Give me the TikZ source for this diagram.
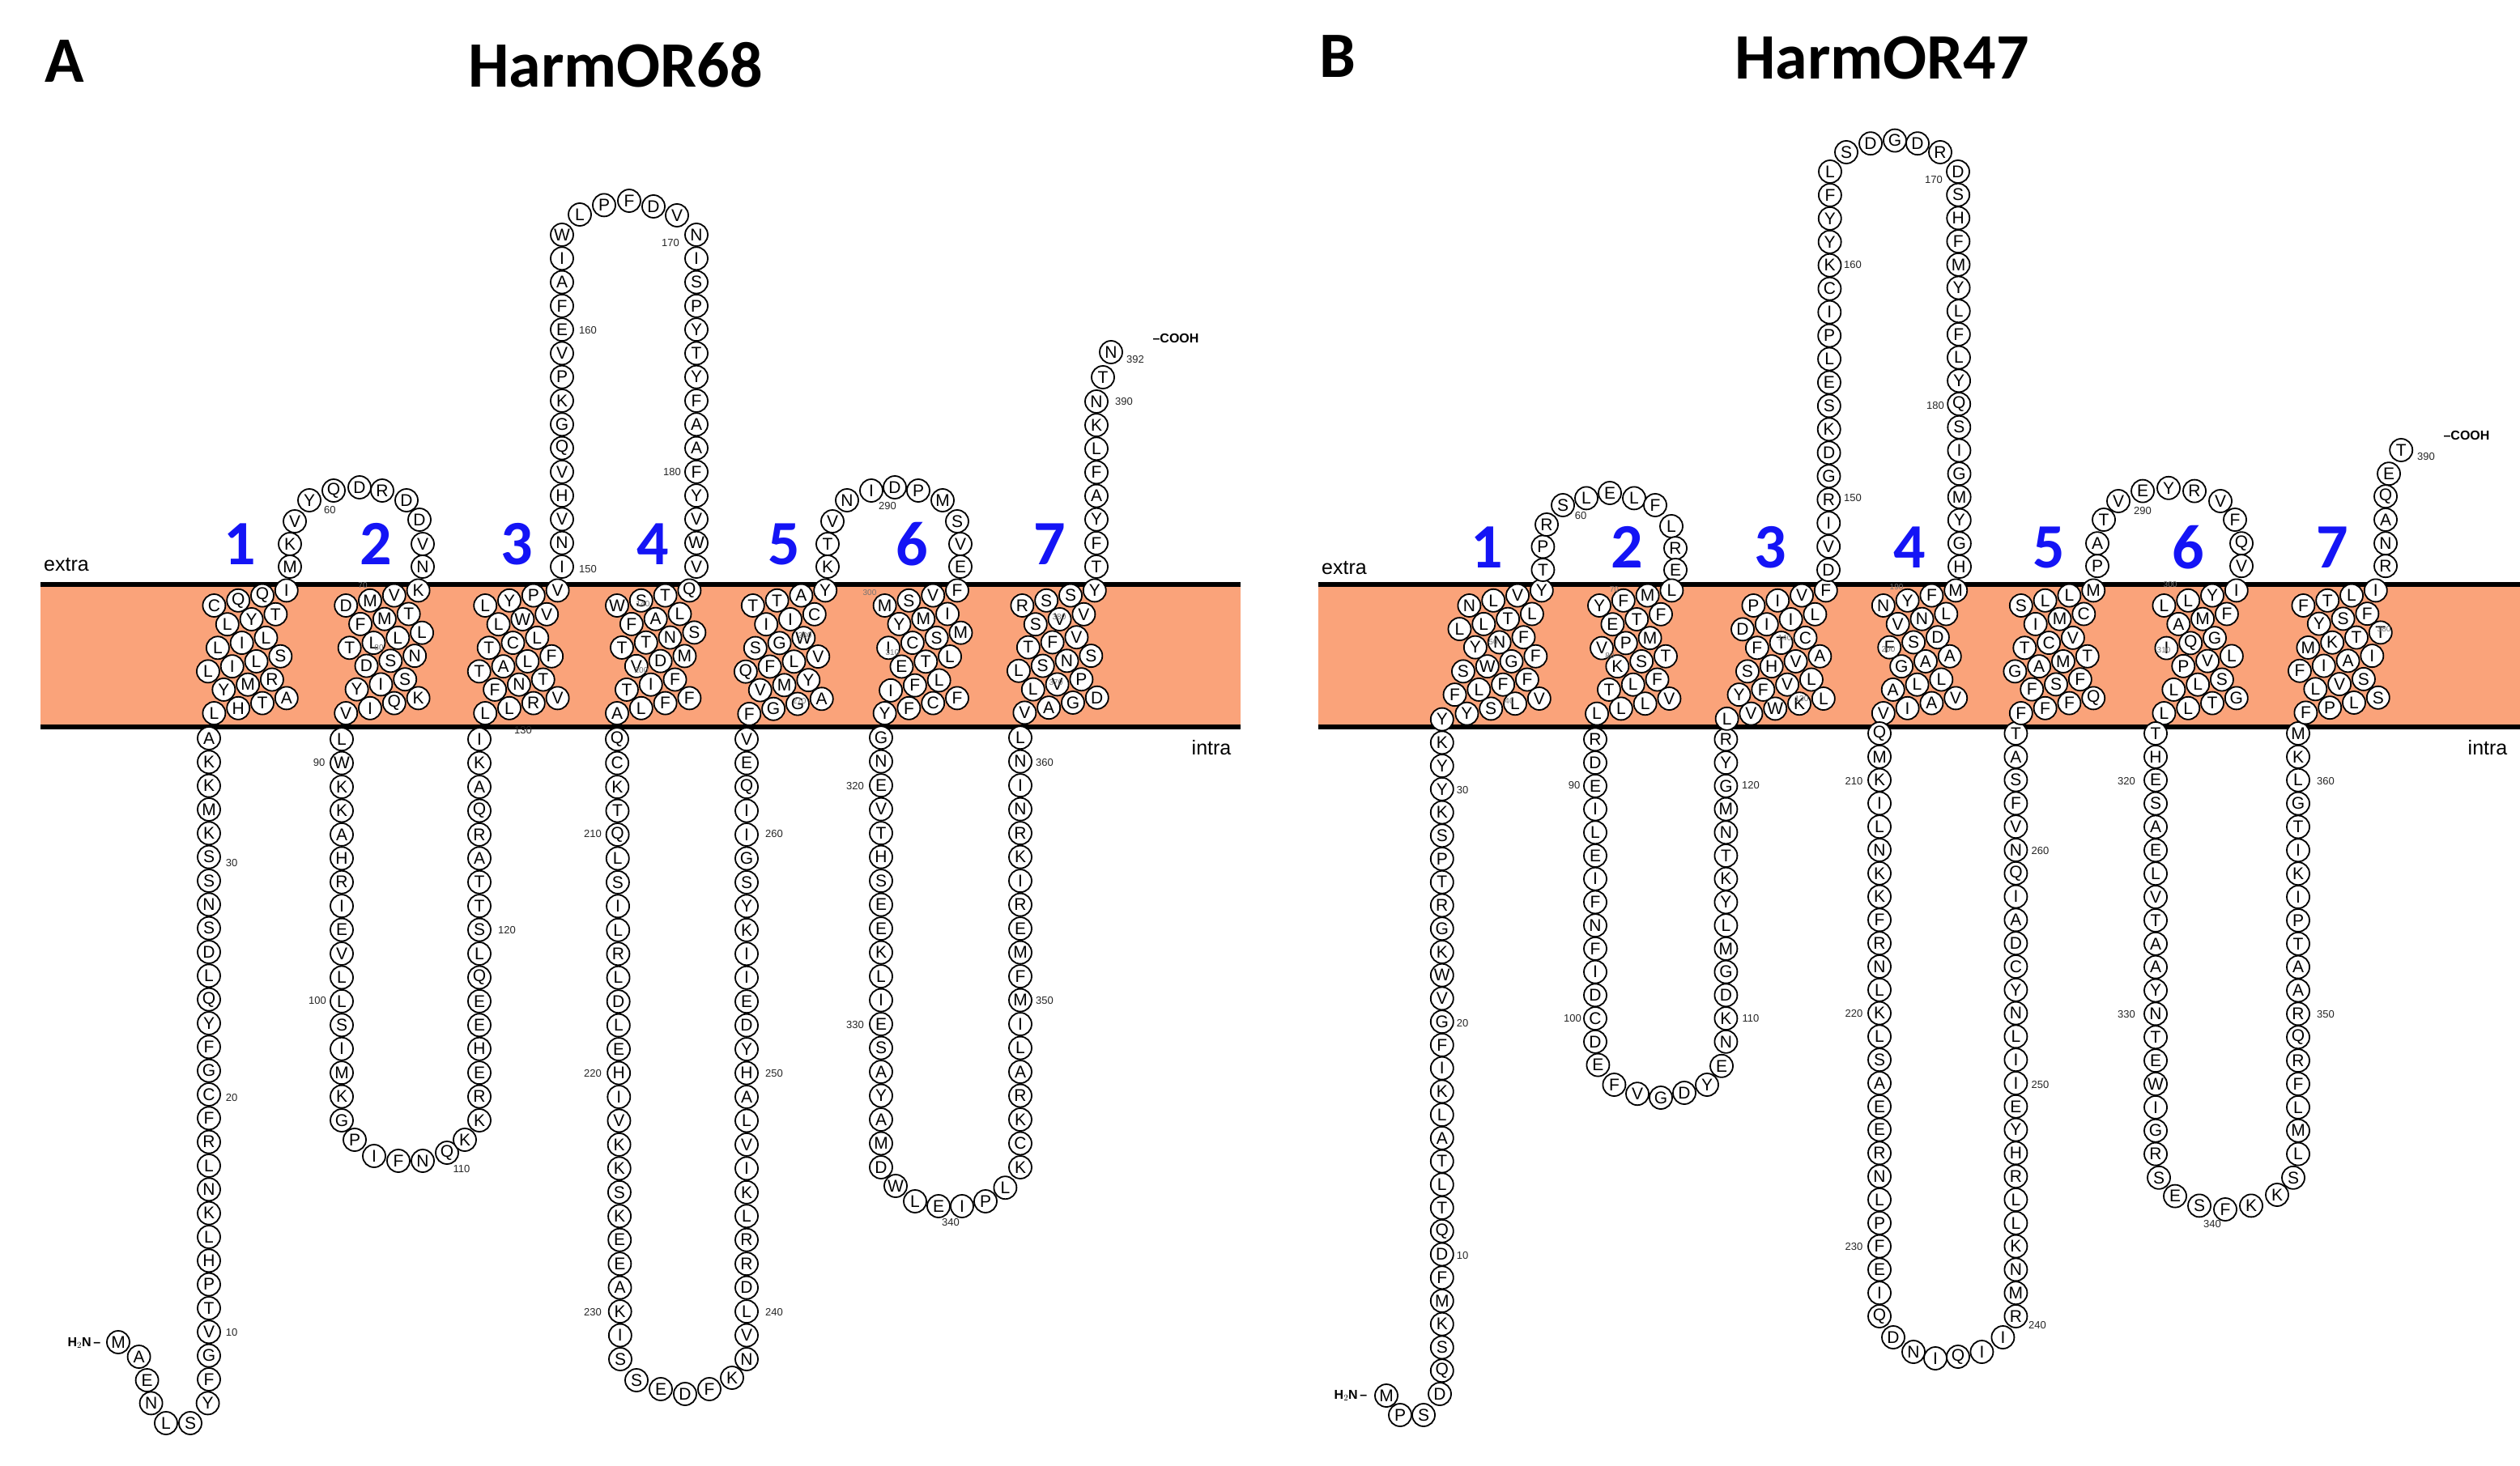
\documentclass[tikz,border=0pt]{standalone}
\usepackage{fontspec}
\setmainfont{Liberation Sans}
\newfontfamily\carlitofont{Carlito}
\begin{document}
\definecolor{memb}{RGB}{250,163,122}
\definecolor{tmblue}{RGB}{20,20,245}
\newcommand\pts[2]{\foreach \x/\y/\l [count=\i] in {#2}{\node[res] (#1\i) at (\x,\y) {\l};}}
\newcommand\col[7]{\foreach \l [count=\i] in {#7}{\node[res] (#1\i) at ({#2+(#4-(#2))*(\i-1)/(#6-1)},{#3+(#5-(#3))*(\i-1)/(#6-1)}) {\l};}}
\newcommand\helix[4]{\foreach \off/\lst [count=\r] in {#4}{\foreach \l [count=\c] in \lst {\node[res] (#1r\r c\c) at ({#2+(\off+\c-1)*14.9},{#3+(\r-1)*13.3-(\off+\c-1)*3.1}) {\l};}}}
\newcommand\labs[2]{\foreach \x/\y/\t [count=\i] in {#2}{\node[lab] (#1\i) at (\x,\y) {\t};}}
\begin{tikzpicture}[x=2pt,y=-2pt,
 res/.style={circle,draw,line width=1.8pt,fill=white,minimum size=28pt,inner sep=0pt,font=\fontsize{21}{21}\selectfont},
 lab/.style={font=\fontsize{13}{13}\selectfont,text=black!85},
 tml/.style={font=\fontsize{10}{10}\selectfont,text=black!55,inner sep=0pt},
 tmnum/.style={font=\carlitofont\bfseries\fontsize{78}{78}\selectfont,text=tmblue},
 title/.style={font=\carlitofont\bfseries\fontsize{80}{80}\selectfont},
 side/.style={font=\fontsize{25}{25}\selectfont},
 band/.style={fill=memb,draw=none}]
\useasboundingbox (0,0) rectangle (1556,905.5);
% membranes
\fill[band] (25,361) rectangle (766,449);
\draw[line width=6pt] (25,361) -- (766,361) (25,449) -- (766,449);
\fill[band] (814,361) rectangle (1556,449);
\draw[line width=6pt] (814,361) -- (1556,361) (814,449) -- (1556,449);
% headings
\node[title] (tA) at (40,38) {A};
\node[title] (hA) at (380,40) {HarmOR68};
\node[title] (tB) at (826,35) {B};
\node[title] (hB) at (1162,36) {HarmOR47};
\node[side] (exA) at (41,349) {extra};
\node[side] (inA) at (748,462) {intra};
\node[side] (exB) at (830,351) {extra};
\node[side] (inB) at (1536,462) {intra};
\foreach \x/\t [count=\i] in {148/1,232/2,319/3,403/4,484/5,563/6,648/7}{\node[tmnum] (nA\i) at (\x,336) {\t};}
\foreach \x/\t [count=\i] in {918/1,1004.5/2,1093/3,1179/4,1265/5,1351/6,1440/7}{\node[tmnum] (nB\i) at (\x,338) {\t};}
% ================= Panel A =================
\node[font=\bfseries\fontsize{16}{16}\selectfont] (aH2N) at (52,829.5) {H$_2$N\,--};
\pts{aN}{73/829/M,85.8/838/A,90.8/852.5/E,93.3/866.7/N,102.5/879/L,117.5/879/S,128.3/866.7/Y}
\col{aC}{129}{852}{129}{456}{28}{F,G,V,T,P,H,L,K,N,L,R,F,C,G,F,Y,Q,L,D,S,N,S,S,K,M,K,K,A}
\helix{aT1}{132.2}{374}{0/{C,Q,Q,I},.55/{L,Y,T},.15/{L,I,L},-.25/{L,I,L,S},.4/{Y,M,R},0/{L,H,T,A}}
\pts{aL1}{179/350/M,179/336/K,182/322/V,191/309/Y,206/303/Q,222/301/D,236/303/R,251/309/D,259/321/D,261/336/V,261/350/N}
\helix{aT2}{213.6}{374}{0/{D,M,V,K},.6/{F,M,T},.15/{T,L,L,L},.85/{D,S,N},.45/{Y,I,S},0/{V,I,Q,K}}
\col{aL2a}{211}{456.6}{211}{692}{17}{L,W,K,K,A,H,R,I,E,V,L,L,S,I,M,K,G}
\pts{aL2b}{219/704/P,231/714/I,246/717/F,261/717/N,276/712/Q,287/704/K}
\col{aL2c}{296}{692}{296}{456.6}{17}{K,R,E,H,E,E,Q,L,S,T,T,A,R,Q,A,K,I}
\helix{aT3}{299.6}{374}{0/{L,Y,P,V},.55/{L,W,V},.15/{T,C,L},-.25/{T,A,L,F},.4/{F,N,T},0/{L,L,R,V}}
\col{aL3a}{347}{350}{347}{145}{15}{I,N,V,H,V,Q,G,K,P,V,E,F,A,I,W}
\pts{aL3b}{358/132.5/L,373/126.7/P,388.5/124/F,403.5/127.5/D,418/133/V}
\col{aL3c}{430}{145}{430}{350}{15}{N,I,S,P,Y,T,Y,F,A,A,F,Y,V,W,V}
\helix{aT4}{381}{374}{0/{W,S,T,Q},.6/{F,A,L},.2/{T,T,N,S},.8/{V,D,M},.4/{T,I,F},0/{A,L,F,F}}
\col{aL4a}{381}{456.6}{383}{839.5}{27}{Q,C,K,T,Q,L,S,I,L,R,L,D,L,E,H,I,V,K,K,S,K,E,E,A,K,I,S}
\pts{aL4b}{393/852.5/S,408/858/E,423/861/D,438/858/F,452/851/K}
\col{aL4c}{461}{839.5}{461}{456.6}{27}{N,V,L,D,R,R,L,K,I,V,L,A,H,Y,D,E,I,I,K,Y,S,G,I,I,Q,E,V}
\helix{aT5}{464.9}{374}{0/{T,T,A,Y},.55/{I,I,C},.1/{S,G,W},-.3/{Q,F,L,V},.3/{V,M,Y},-.15/{F,G,G,A}}
\pts{aL5}{511/350/K,511/336/T,514/322/V,523/309/N,538/303/I,552.5/301/D,567/303/P,582/309/M,591/322/S,593/336/V,593/350/E}
\helix{aT6}{546.3}{374}{0/{M,S,V,F},.6/{Y,M,I},.15/{I,C,S,M},.7/{E,T,L},.25/{I,F,L},0/{Y,F,C,F}}
\col{aL6a}{544}{455.6}{544}{721}{19}{G,N,E,V,T,H,S,E,E,K,L,I,E,S,A,Y,A,M,D}
\pts{aL6b}{553/732.5/W,565/742/L,579.5/745/E,594/745/I,608.5/742/P,620.7/733.6/L}
\col{aL6c}{630}{721}{630}{455.6}{19}{K,C,K,R,A,L,I,M,F,M,E,R,I,K,R,N,I,N,L}
\helix{aT7}{631.2}{374}{0/{R,S,S,Y},.55/{S,V,V},.25/{T,F,V},-.15/{L,S,N,S},.45/{L,V,P},.1/{V,A,G,D}}
\col{aCt}{677}{350}{677}{248}{8}{T,F,Y,A,F,L,K,N}
\pts{aCe}{681/233/T,686/217.5/N}
\node[font=\bfseries\fontsize{16}{16}\selectfont] (aCOOH) at (726,209) {--COOH};
\labs{aLab}{143/823/10,143/678/20,143/533/30,203.7/315/60,197/471/90,196/618/100,285/722/110,313/574.5/120,323/451/130,363/351.7/150,363/204/160,414/150/170,415/291.7/180,366/515/210,366/663/220,366/810.6/230,478/810.6/240,478/663/250,478/515/260,548/312.5/290,528/485.6/320,528/633/330,587/755/340,645/618/350,645/471/360,694/248/390,701/222/392}
\foreach \x/\y/\t [count=\i] in {224/361.7/70,234/400/80,397/373/140,396/414/200,493.6/433/270,497/392.5/280,537/366/300,551/403/310,652/421.7/370,654/381/380}{\node[tml] (aTl\i) at (\x,\y) {\t};}
% ================= Panel B =================
\node[font=\bfseries\fontsize{16}{16}\selectfont] (bH2N) at (834,862) {H$_2$N\,--};
\pts{bN}{856/862/M,864.5/874/P,879/874/S,889/861/D}
\col{bC}{890.4}{846.6}{890.4}{444.3}{29}{Q,S,K,M,F,D,Q,T,L,T,A,L,K,I,F,G,V,W,K,G,R,T,P,S,K,Y,Y,K,Y}
\helix{bT1}{907.2}{374}{0/{N,L,V,Y},-.4/{L,L,T,L},.25/{Y,N,F},-.25/{S,W,G,F},-.6/{F,L,F,F},-.1/{Y,S,L,V}}
\pts{bL1}{952.7/352/T,952.7/337.7/P,955/324/R,965/312/S,979.5/307.7/L,994/304.5/E,1009/307.7/L,1022/312/F,1032/325/L,1034.5/338.6/R,1034.5/352/E}
\helix{bT2}{987.5}{374}{0/{Y,F,M,L},.55/{E,T,F},.1/{V,P,M},.75/{K,S,T},.4/{T,L,F},-.1/{L,L,L,V}}
\col{bL2a}{985}{456.7}{985}{643.4}{14}{R,D,E,I,L,E,I,F,N,F,I,D,C,D}
\pts{bL2b}{986.7/657.8/E,996.7/670/F,1011/675.6/V,1025.5/678/G,1040/675/D,1054/670/Y,1063/658.4/E}
\col{bL2c}{1065.7}{643.4}{1065.7}{456.7}{14}{N,K,D,G,M,L,Y,K,T,N,M,G,Y,R}
\helix{bT3}{1082.7}{374}{0/{P,I,V,F},-.45/{D,I,I,L},.15/{F,T,C},-.25/{S,H,V,A},-.6/{Y,F,V,L},-1.1/{L,V,W,K,L}}
\col{bL3a}{1129}{352}{1130}{106}{18}{D,V,I,R,G,D,K,S,E,L,P,I,C,K,Y,Y,F,L}
\pts{bL3b}{1140/94/S,1155/88.6/D,1170/86.8/G,1184/88.6/D,1198/94/R}
\col{bL3c}{1209}{106}{1210}{350}{18}{D,S,H,F,M,Y,L,F,L,Y,Q,S,I,G,M,Y,G,H}
\helix{bT4}{1162.9}{374}{0/{N,Y,F,M},.6/{V,N,L},.25/{F,S,D},.75/{G,A,A},.4/{A,L,L},0/{V,I,A,V}}
\col{bL4a}{1160.5}{453}{1160.5}{813}{26}{Q,M,K,I,L,N,K,K,F,R,N,L,K,L,S,A,E,E,R,N,L,P,F,E,I,Q}
\pts{bL4b}{1169/826/D,1181.5/835/N,1195/839/I,1209/838/Q,1223.7/835/I,1236.7/826/I}
\col{bL4c}{1244.7}{813}{1244.7}{453}{26}{R,M,N,K,L,L,R,H,Y,E,I,I,L,N,Y,C,D,A,I,Q,N,V,F,S,A,T}
\helix{bT5}{1247.9}{374}{0/{S,L,L,M},.6/{I,M,C},.15/{T,C,V},-.25/{G,A,M,T},.45/{F,S,F},0/{F,F,F,Q}}
\pts{bL5}{1295/349.6/P,1295/335.6/A,1299/321/T,1308/309.5/V,1323/303.3/E,1339/301.4/Y,1355/303.3/R,1371/309.5/V,1380/321/F,1384/335.6/Q,1384/349.6/V}
\helix{bT6}{1336.2}{374}{0/{L,L,Y,I},.6/{A,M,F},.1/{I,Q,G},.8/{P,V,L},.4/{L,L,S},0/{L,L,T,G}}
\col{bL6a}{1331}{453}{1331}{712.8}{19}{T,H,E,S,A,E,L,V,T,A,A,Y,N,T,E,W,I,G,R}
\pts{bL6b}{1333/727.4/S,1343/738.8/E,1358/744.7/S,1374/747/F,1390/744.7/K,1406/738/K,1416/727.4/S}
\col{bL6c}{1419}{712.8}{1419}{453}{19}{L,M,L,F,R,Q,R,A,A,T,P,I,K,I,T,G,L,K,M}
\helix{bT7}{1422.2}{374}{0/{F,T,L,I},.65/{Y,S,F},.2/{M,K,T,T},-.15/{F,I,A,I},.5/{L,V,S},.1/{F,P,L,S}}
\pts{bCt}{1473/349.6/R,1473/335.6/N,1473/321/A,1473/306.6/Q,1475/292.6/E,1482.6/278/T}
\node[font=\bfseries\fontsize{16}{16}\selectfont] (bCOOH) at (1523,268.8) {--COOH};
\labs{bLab}{903/775.6/10,903/632/20,903/488/30,976/318.6/60,972/485/90,971/629/100,1081/629/110,1081/485/120,1144/307.7/150,1144/163.5/160,1194/111/170,1195/250.5/180,1144.7/482.5/210,1144.7/626/220,1144.7/770/230,1258/818.7/240,1259.7/670/250,1259.7/525.6/260,1323/315.4/290,1313/482.5/320,1313/626.4/330,1366/756/340,1436/626.4/350,1436/482.5/360,1498/281.8/390}
\foreach \x/\y/\t [count=\i] in {932/433/40,922/396.7/50,996.7/364/70,994/405/80,1112.5/431.7/130,1102/394/140,1171/362.5/190,1166/401/200,1340/361/300,1336/401.7/310,1472/388.7/380}{\node[tml] (bTl\i) at (\x,\y) {\t};}
\end{tikzpicture}
\end{document}
